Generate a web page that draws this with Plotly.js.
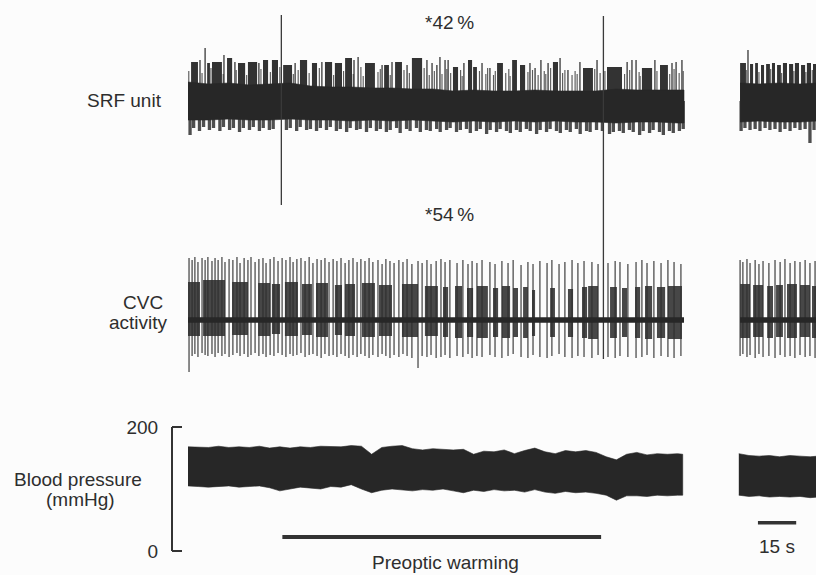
<!DOCTYPE html>
<html>
<head>
<meta charset="utf-8">
<script src="https://cdn.plot.ly/plotly-3.0.1.min.js"></script>
<style>
  html, body { margin: 0; padding: 0; background: #fcfcfc; }
  #chart { width: 816px; height: 575px; }
</style>
</head>
<body>
<div id="chart"></div>
<script>
// ---- Recording segments (time in s) ----
const segLeft = [0, 194.5];
const segRight = [216.5, 247];

// ---- Preoptic warming period and time calibration (s) ----
const warming = [37, 162];
const scaleBar = [223.5, 238.5];
const scaleLabel = '15 s';

// ---- Warming on/off artefacts: [time, top, bottom] in SRF units ----
const artefacts = [[36.6, 86, -104], [162.9, 85, -258]];

// ---- Blood pressure envelope (mmHg) ----
const bpTime = [0, 4, 8, 12, 16, 20, 24, 28, 32, 36, 40, 44, 48, 52, 56, 60, 64, 68, 72, 76,
  80, 84, 88, 92, 96, 100, 104, 108, 112, 116, 120, 124, 128, 132, 136, 140, 144, 148, 152, 156,
  160, 164, 168, 172, 176, 180, 184, 188, 192, 194];
const bpSystolic = [168, 168, 167, 169, 167, 168, 167, 169, 166, 168, 166, 168, 167, 169, 168, 168, 170, 169, 156, 167,
  169, 170, 165, 163, 165, 164, 163, 164, 156, 161, 160, 163, 157, 162, 166, 160, 157, 162, 160, 162,
  159, 152, 147, 156, 159, 155, 157, 156, 157, 156];
const bpDiastolic = [105, 104, 103, 104, 105, 103, 104, 105, 102, 97, 100, 103, 102, 100, 104, 103, 107, 100, 94, 98,
  100, 99, 97, 99, 98, 100, 97, 94, 98, 96, 99, 97, 98, 95, 99, 95, 93, 96, 94, 95,
  93, 90, 82, 89, 89, 88, 90, 89, 90, 90];
const bpTime2 = [216, 220, 224, 228, 232, 236, 240, 244, 247];
const bpSystolic2 = [157, 154, 153, 154, 152, 154, 153, 152, 153];
const bpDiastolic2 = [90, 88, 89, 87, 88, 87, 88, 86, 87];
const bpTicks = [0, 200];

// ---- SRF unit: core noise band (arbitrary units) ----
const srfCoreTime = [0, 8, 16, 24, 32, 40, 48, 56, 64, 72, 80, 88, 96, 104, 112, 120, 128, 136, 144, 152, 160, 168, 176, 184, 192, 194.5];
const srfCoreTop = [19, 17, 18, 16, 17, 18, 15, 14, 14, 13, 13, 12, 12, 10, 11, 10, 10, 11, 10, 10, 10, 12, 11, 11, 11, 11];
const srfCoreBottom = [-19, -19, -18, -19, -19, -18, -19, -19, -20, -19, -20, -19, -20, -21, -20, -21, -20, -21, -20, -21, -21, -22, -21, -21, -22, -22];
const srfCoreTime2 = [216.5, 224, 232, 240, 247];
const srfCoreTop2 = [18, 17, 18, 17, 18];
const srfCoreBottom2 = [-21, -20, -21, -21, -20];

// ---- SRF unit: discharges above the band [start, end, peak] ----
const srfUpper = [
  [1.2, 3.9, 39], [4.7, 4.7, 41], [6.7, 6.7, 53], [7.5, 8.6, 38], [9.4, 13.3, 39], [14.1, 14.1, 46],
  [15.3, 17.3, 43], [18.4, 18.4, 39], [19.6, 22.4, 38], [23.5, 27.1, 39], [27.8, 27.8, 38], [29.4, 31.4, 41],
  [32.9, 35.3, 41], [37.3, 40.8, 36], [42.0, 42.0, 38], [43.9, 46.7, 41], [48.6, 50.6, 38], [52.5, 52.5, 39],
  [53.7, 56.5, 39], [57.6, 60.4, 38], [61.6, 64.3, 43], [65.1, 65.1, 41], [66.7, 66.7, 44], [69.4, 73.3, 38],
  [76.1, 76.1, 36], [76.9, 78.8, 36], [80.0, 80.0, 39], [81.2, 83.9, 39], [85.9, 85.9, 36], [87.8, 91.8, 43],
  [93.7, 93.7, 41], [95.7, 95.7, 38], [97.6, 97.6, 36], [98.8, 98.8, 44], [100.8, 100.8, 41], [102.0, 102.0, 41],
  [103.9, 105.9, 34], [108.2, 108.2, 38], [109.8, 111.4, 41], [111.8, 113.3, 34], [115.3, 115.3, 38], [118.4, 118.4, 33],
  [121.2, 123.5, 38], [127.1, 129.0, 41], [130.2, 132.2, 36], [134.1, 134.1, 38], [136.1, 136.1, 33], [138.4, 138.4, 41],
  [141.2, 141.2, 38], [143.1, 145.1, 39], [145.9, 145.9, 43], [149.0, 149.0, 31], [153.7, 153.7, 39], [154.9, 158.8, 33],
  [160.4, 160.4, 41], [164.3, 170.2, 34], [172.2, 172.2, 39], [174.1, 174.1, 41], [175.7, 175.7, 41], [178.0, 182.0, 33],
  [183.1, 183.1, 41], [185.1, 188.2, 36], [189.8, 189.8, 38], [191.4, 191.4, 39], [193.7, 193.7, 41],
  [216.5, 218.8, 38], [219.6, 219.6, 51], [220.4, 221.6, 37], [222.4, 223.5, 38], [224.7, 225.9, 36], [226.7, 228.2, 37],
  [229.0, 230.2, 38], [231.0, 232.5, 36], [233.3, 234.9, 38], [235.7, 237.3, 37], [238.0, 239.6, 38], [240.4, 242.0, 36],
  [242.7, 244.3, 38], [245.1, 246.3, 37]
];

// ---- SRF unit: smaller single discharges above the band [time, peak] ----
const srfUpperSmall = [
  [0.3, 30], [5.5, 28], [9.0, 33], [13.8, 27], [18.9, 31], [23.0, 26], [28.6, 32], [32.3, 29], [36.0, 34], [41.3, 27],
  [43.2, 31], [47.5, 28], [51.5, 33], [57.1, 26], [61.0, 30], [64.8, 27], [67.8, 34], [68.7, 25], [74.5, 29], [75.4, 32],
  [79.3, 26], [84.7, 31], [86.8, 28], [92.6, 33], [94.6, 26], [96.6, 30], [99.6, 27], [101.5, 32], [103.0, 28], [106.9, 31],
  [107.5, 25], [114.3, 30], [116.8, 27], [117.5, 33], [119.8, 26], [120.5, 30], [124.6, 28], [125.8, 32], [126.3, 25], [133.3, 29],
  [135.1, 31], [137.3, 26], [139.7, 30], [140.3, 27], [142.2, 33], [146.9, 28], [147.8, 31], [150.6, 26], [151.8, 30], [152.6, 27],
  [159.5, 32], [161.6, 28], [163.5, 30], [171.2, 27], [173.2, 31], [176.9, 29], [177.3, 25], [183.9, 30], [188.9, 27], [190.6, 32],
  [192.6, 28], [194.2, 30], [218.9, 31], [223.9, 29], [228.5, 32], [232.8, 28], [237.6, 30], [242.3, 29], [244.8, 31]
];

// ---- SRF unit: negative deflections below the band [time, trough] ----
const srfLower = [
  [0.8, -34], [2.2, -27], [4.5, -30], [6.1, -26], [8.4, -29], [10.0, -27], [12.5, -30], [13.9, -26], [16.3, -29], [17.8, -27],
  [20.2, -31], [21.7, -27], [24.1, -29], [25.6, -26], [28.0, -30], [29.5, -27], [31.9, -29], [33.4, -28], [38.6, -29], [40.1, -27],
  [42.6, -30], [44.0, -26], [46.5, -29], [48.0, -28], [50.4, -30], [51.9, -27], [54.3, -29], [55.8, -26], [58.2, -30], [59.7, -28],
  [62.2, -31], [63.6, -27], [66.1, -29], [67.5, -28], [70.0, -31], [71.5, -27], [73.9, -30], [75.4, -28], [77.8, -31], [79.3, -29],
  [81.8, -27], [83.2, -32], [85.7, -28], [87.1, -30], [89.6, -27], [91.1, -31], [93.5, -29], [95.0, -30], [97.5, -28], [98.9, -31],
  [101.4, -29], [102.8, -27], [105.3, -31], [106.8, -29], [109.2, -28], [110.7, -32], [113.1, -30], [114.6, -28], [117.1, -33], [118.5, -29],
  [121.0, -31], [122.4, -28], [124.9, -30], [126.4, -32], [128.8, -29], [130.3, -31], [132.7, -28], [134.2, -30], [136.7, -33], [138.1, -29],
  [140.6, -31], [142.0, -28], [144.5, -30], [146.0, -32], [148.4, -29], [149.9, -31], [152.3, -28], [153.8, -33], [156.3, -30], [157.7, -31],
  [160.2, -29], [162.5, -30], [165.3, -33], [166.8, -31], [169.2, -30], [170.7, -32], [173.1, -29], [174.6, -31], [177.1, -34], [178.5, -30],
  [181.0, -32], [182.4, -29], [184.9, -31], [186.4, -34], [188.8, -30], [190.3, -32], [192.7, -30], [194.2, -28],
  [216.9, -30], [218.4, -27], [220.4, -29], [222.4, -28], [224.3, -30], [226.3, -27], [228.2, -29], [230.2, -28],
  [232.2, -31], [234.1, -28], [236.1, -30], [238.0, -27], [240.0, -29], [242.0, -28], [243.9, -42], [245.5, -29]
];

// ---- CVC activity: multiunit bursts [start, end, top, bottom] ----
const cvcBursts = [
  [0, 4.7, 38, -16], [5.9, 14.5, 40, -16], [17.3, 23.5, 38, -15], [27.5, 32.2, 37, -16], [32.9, 36.1, 36, -14],
  [38.0, 43.1, 38, -16], [44.7, 48.6, 36, -15], [50.2, 54.9, 37, -17], [57.6, 60.4, 35, -15], [61.6, 65.5, 36, -16],
  [68.2, 73.3, 37, -17], [74.9, 80.0, 35, -16], [83.9, 90.2, 36, -17], [92.9, 98.0, 34, -16], [100.0, 102.0, 33, -17],
  [104.7, 107.5, 34, -18], [109.4, 111.8, 32, -17], [113.3, 117.6, 34, -18], [119.6, 121.6, 32, -17], [123.1, 126.3, 34, -18],
  [127.5, 129.4, 32, -17], [131.4, 133.3, 33, -18], [134.9, 136.1, 30, -16], [142.0, 143.9, 32, -17], [149.0, 151.0, 31, -17],
  [154.5, 156.5, 33, -18], [156.9, 160.8, 34, -19], [165.5, 168.2, 33, -18], [170.2, 172.2, 32, -17], [175.3, 177.3, 33, -18],
  [179.2, 182.0, 34, -19], [183.9, 187.1, 33, -18], [188.2, 193.7, 34, -19],
  [216.5, 220.4, 36, -18], [221.6, 225.5, 35, -17], [227.1, 229.4, 34, -18], [230.6, 233.3, 35, -17],
  [234.9, 238.8, 36, -18], [240.0, 243.9, 35, -17], [244.7, 246.3, 34, -18]
];

// ---- CVC activity: large single spikes [time, peak, trough] ----
const cvcSpikes = [
  [0.4, 62, -52], [1.6, 60, -36], [2.7, 63, -34], [3.9, 58, -37], [5.5, 62, -33], [6.7, 60, -35], [7.8, 63, -36],
  [9.4, 59, -34], [10.6, 62, -37], [11.8, 60, -33], [13.3, 63, -36], [14.5, 58, -34], [16.1, 61, -37], [17.6, 60, -35],
  [19.2, 63, -33], [20.4, 57, -36], [22.0, 62, -34], [23.5, 60, -37], [24.7, 63, -35], [26.3, 58, -33], [27.8, 61, -36],
  [29.4, 62, -34], [30.6, 57, -37], [32.2, 61, -35], [33.7, 63, -36], [35.3, 59, -33], [36.9, 62, -35], [38.4, 60, -37],
  [40.0, 63, -34], [41.2, 58, -36], [42.7, 61, -35], [44.3, 62, -33], [45.9, 59, -37], [47.5, 63, -35], [49.0, 57, -34],
  [50.6, 61, -36], [52.2, 60, -38], [53.7, 62, -34], [55.3, 58, -36], [56.9, 61, -35], [58.4, 59, -37], [60.0, 62, -34],
  [61.6, 57, -36], [63.1, 60, -38], [64.7, 62, -35], [66.3, 58, -37], [67.8, 61, -34], [69.4, 59, -36], [71.0, 62, -38],
  [72.5, 58, -35], [74.5, 60, -37], [76.1, 56, -34], [77.6, 61, -36], [79.2, 59, -38], [80.8, 57, -35], [82.7, 60, -37],
  [84.3, 58, -34], [85.9, 61, -36], [87.8, 56, -38], [90.2, 59, -48], [91.8, 57, -36], [93.7, 60, -37], [95.3, 56, -35],
  [97.3, 59, -38], [99.2, 61, -37], [100.8, 58, -35], [102.7, 60, -38], [105.5, 57, -36], [107.8, 60, -37], [109.8, 56, -34],
  [111.4, 59, -38], [113.3, 57, -36], [115.3, 60, -37], [118.4, 58, -35], [120.4, 56, -37], [123.1, 59, -38], [125.5, 57, -36],
  [127.5, 60, -34], [130.6, 55, -37], [133.3, 58, -38], [135.3, 56, -35], [138.0, 59, -37], [140.8, 57, -38], [142.7, 60, -36],
  [145.5, 56, -34], [147.8, 58, -37], [150.6, 60, -38], [152.9, 57, -36], [155.3, 59, -37], [158.4, 58, -38], [160.8, 56, -35],
  [164.7, 57, -37], [167.5, 59, -38], [169.4, 58, -36], [172.5, 56, -37], [175.7, 58, -38], [178.0, 60, -37], [180.0, 57, -35],
  [182.7, 59, -38], [185.5, 57, -36], [188.2, 60, -37], [190.6, 58, -38], [193.3, 56, -36],
  [216.5, 60, -36], [217.6, 58, -34], [219.2, 61, -37], [220.4, 57, -35], [222.4, 60, -38], [223.9, 56, -34], [225.5, 59, -37],
  [227.8, 57, -36], [230.2, 60, -38], [232.2, 58, -35], [234.1, 61, -37], [236.1, 57, -36], [238.0, 59, -38], [240.0, 58, -35],
  [242.0, 60, -37], [243.9, 57, -36], [245.9, 59, -38]
];

// ---- helpers ----
const INK = '#272727';
const TEXT = '#2e2e2e';
const FONT = 'Liberation Sans, Arial, Helvetica, sans-serif';

function band(t, top, bot) {
  return { x: t.concat(t.slice().reverse()), y: top.concat(bot.slice().reverse()) };
}
function polyTrace(b, yaxis, color) {
  return { type: 'scatter', mode: 'lines', x: b.x, y: b.y, fill: 'toself', fillcolor: color,
    line: { width: 0.6, color: color }, yaxis: yaxis, hoverinfo: 'skip' };
}
function barTrace(yaxis, x, width, base, height, color) {
  return { type: 'bar', yaxis: yaxis, hoverinfo: 'skip', x: x, width: width, base: base, y: height,
    marker: { color: color, line: { width: 0 } } };
}

const traces = [];

// Blood pressure (mmHg)
traces.push(polyTrace(band(bpTime, bpSystolic, bpDiastolic), 'y3', INK));
traces.push(polyTrace(band(bpTime2, bpSystolic2, bpDiastolic2), 'y3', INK));

// Warming period bar and 15 s calibration bar (on the tick axis, same scale as pressure)
traces.push({ type: 'scatter', mode: 'lines', x: warming, y: [22.6, 22.6], yaxis: 'y4',
  line: { color: '#333', width: 4 }, hoverinfo: 'skip' });
traces.push({ type: 'scatter', mode: 'lines', x: scaleBar, y: [45.6, 45.6], yaxis: 'y4',
  line: { color: '#333', width: 3.5 }, hoverinfo: 'skip' });

// SRF unit band
traces.push(polyTrace(band(srfCoreTime, srfCoreTop, srfCoreBottom), 'y', INK));
traces.push(polyTrace(band(srfCoreTime2, srfCoreTop2, srfCoreBottom2), 'y', INK));

// SRF small discharges, bursts and deflections below the band
traces.push(barTrace('y', srfUpperSmall.map(d => d[0]), srfUpperSmall.map(() => 0.45),
  srfUpperSmall.map(() => 0), srfUpperSmall.map(d => d[1]), '#5a5a5a'));
traces.push(barTrace('y', srfUpper.map(d => (d[0] + d[1]) / 2), srfUpper.map(d => Math.max(d[1] - d[0], 0.5)),
  srfUpper.map(() => 0), srfUpper.map(d => d[2]), '#333'));
traces.push(barTrace('y', srfLower.map(d => d[0]), srfLower.map(() => 1.3),
  srfLower.map(d => d[1]), srfLower.map(d => -d[1]), '#4e4e4e'));

// CVC bursts and spikes
traces.push(barTrace('y2', cvcSpikes.map(d => d[0]), cvcSpikes.map(() => 0.5),
  cvcSpikes.map(d => d[2]), cvcSpikes.map(d => d[1] - d[2]), '#4a4a4a'));
traces.push(barTrace('y2', cvcBursts.map(d => (d[0] + d[1]) / 2), cvcBursts.map(d => d[1] - d[0]),
  cvcBursts.map(d => d[3]), cvcBursts.map(d => d[2] - d[3]), 'rgba(45,45,45,0.88)'));

// CVC baseline
traces.push({ type: 'scatter', mode: 'lines', yaxis: 'y2', hoverinfo: 'skip',
  x: [segLeft[0], segLeft[1], null, segRight[0], segRight[1]],
  y: [0, 0, null, 0, 0],
  line: { color: INK, width: 5.5 } });

// Warming on/off artefacts
const artX = [], artY = [];
artefacts.forEach(a => { artX.push(a[0], a[0], null); artY.push(a[1], a[2], null); });
traces.push({ type: 'scatter', mode: 'lines', yaxis: 'y', x: artX, y: artY,
  line: { color: '#3a3a3a', width: 1.3 }, hoverinfo: 'skip' });

// ---- text ----
const W = 816, H = 575;
function note(text, px, py, xanchor) {
  return { text: text, x: px / W, y: 1 - py / H, xref: 'paper', yref: 'paper',
    xanchor: xanchor || 'center', yanchor: 'middle', showarrow: false,
    font: { family: FONT, size: 19, color: TEXT } };
}
const annotations = [
  note('*42\u2009%', 449, 22.5),
  note('*54\u2009%', 449, 214),
  note('SRF unit', 164, 101, 'right'),
  note('CVC', 143, 302),
  note('activity', 138.5, 322),
  note('Blood pressure', 78, 479),
  note('(mmHg)', 80, 499),
  note(scaleLabel, 776.5, 546),
  note('Preoptic warming', 445.5, 562)
];

const bpDomain = [24 / 575, 148 / 575];
const axisX = 171 / 816;
const layout = {
  width: W, height: H,
  margin: { l: 0, r: 0, t: 0, b: 0, pad: 0 },
  paper_bgcolor: '#fcfcfc',
  plot_bgcolor: 'rgba(0,0,0,0)',
  showlegend: false,
  barmode: 'overlay',
  xaxis: { range: [-73.73, 246.27], visible: false, fixedrange: true },
  yaxis: { range: [-474, 101], domain: [0, 1], visible: false, fixedrange: true },
  yaxis2: { range: [-255, 320], overlaying: 'y', visible: false, fixedrange: true },
  // pressure axis: line and labels
  yaxis3: {
    range: [0, 200], domain: bpDomain, anchor: 'free', position: axisX, side: 'left',
    showline: true, linecolor: '#333', linewidth: 1.5, ticks: '',
    tickvals: bpTicks, ticktext: bpTicks.map(String),
    tickfont: { family: FONT, size: 19, color: TEXT },
    ticklabelstandoff: 9,
    showgrid: false, zeroline: false, fixedrange: true
  },
  // pressure axis: bracket ticks pointing toward the traces
  yaxis4: {
    range: [0, 200], domain: bpDomain, anchor: 'free', position: axisX, side: 'right',
    showline: false, ticks: 'outside', ticklen: 10, tickwidth: 1.5, tickcolor: '#333',
    tickvals: bpTicks, showticklabels: false,
    showgrid: false, zeroline: false, fixedrange: true
  },
  annotations: annotations
};

Plotly.newPlot('chart', traces, layout, { staticPlot: true, displayModeBar: false });
</script>
</body>
</html>
